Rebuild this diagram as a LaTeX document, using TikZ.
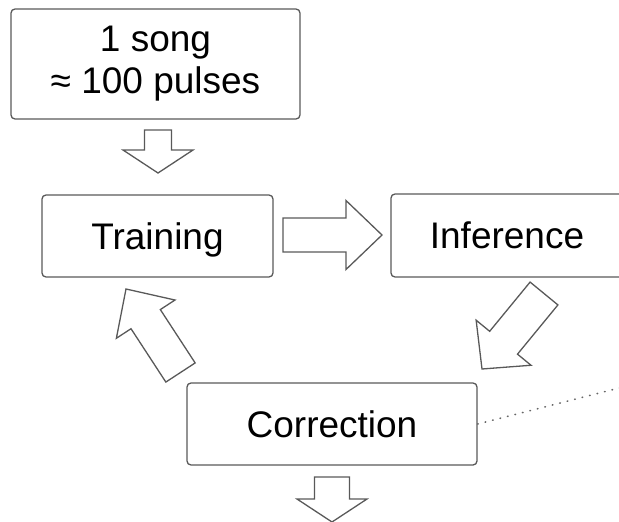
\documentclass[tikz,border=0pt]{standalone}
\usepackage{fontspec}
\setmainfont{Liberation Sans}
\usetikzlibrary{calc}
\tikzset{
  stage/.style={draw=black!65, line width=1.3pt, rounded corners=4pt, inner sep=0pt,
    font=\fontsize{37}{42}\selectfont, text height=26.5pt, text depth=0pt},
  fat/.style={draw=black!65, line width=1.3pt, line join=miter},
}
% #1 tail, #2 tip, #3 half shaft, #4 half head, #5 head length
\newcommand{\fatarrow}[5]{%
  \coordinate (base) at ($#2!#5!#1$);
  \draw[fat] ($#1!#3!90:#2$) -- ($(base)!#3!-90:#1$) -- ($(base)!#4!-90:#1$) -- #2
    -- ($(base)!#4!90:#1$) -- ($(base)!#3!90:#1$) -- ($#1!#3!-90:#2$) -- cycle;}

\begin{document}
\begin{tikzpicture}[x=1pt, y=-1pt]
\clip (0,0) rectangle (619,522);
\node(song)[stage, minimum width=289pt, minimum height=110pt, align=center, text height=, text depth=] at (155.5,64) {1 song\\≈ 100 pulses};
\node(train)[stage, minimum width=231pt, minimum height=82pt] at (157.5,236) {Training};
\node(infer)[stage, minimum width=232pt, minimum height=83pt] at (507,235.5) {Inference};
\node(corr)[stage, minimum width=290pt, minimum height=82pt] at (332,424) {Correction};
\coordinate (out) at (625,386.5);

\fatarrow{(158,130)}{(158,173)}{13.5pt}{35pt}{23pt}
\fatarrow{(283,235)}{(382,235)}{17pt}{34.5pt}{36pt}
\fatarrow{(544,293.5)}{(482,369)}{18pt}{35.5pt}{34pt}
\fatarrow{(180.5,372.5)}{(126,289)}{17.5pt}{35pt}{36pt}
\fatarrow{(332,477)}{(332,522)}{17.5pt}{35pt}{23pt}
\draw[black!60, line width=1.6pt, line cap=round, dash pattern=on 0.6pt off 7.1pt] (corr.east) -- (out);
\end{tikzpicture}
\end{document}
